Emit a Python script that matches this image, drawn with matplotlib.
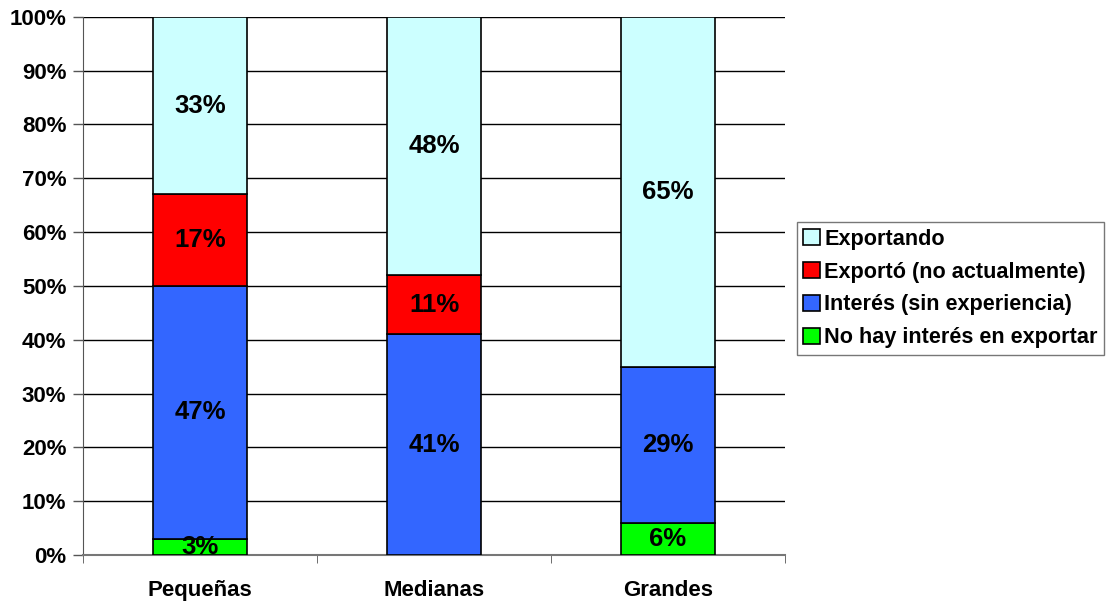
import matplotlib.pyplot as plt
import numpy as np

plt.rcParams['font.family'] = ['Liberation Sans', 'DejaVu Sans']
plt.rcParams['font.weight'] = 'bold'

categorias = ["Pequeñas", "Medianas", "Grandes"]
series = ["No hay interés en exportar", "Interés (sin experiencia)",
          "Exportó (no actualmente)", "Exportando"]
no_interes = [3, 0, 6]
interes = [47, 41, 29]
exporto = [17, 11, 0]
exportando = [33, 48, 65]
colores = ["#00FF00", "#3366FF", "#FF0000", "#CCFFFF"]

valores = [no_interes, interes, exporto, exportando]

fig = plt.figure(figsize=(11.1, 6.02), dpi=100)
ax = fig.add_axes([0.0748, 0.078, 0.6324, 0.894])

x = np.arange(len(categorias))
base = np.zeros(len(categorias))
handles = []
for nombre, vals, color in zip(series, valores, colores):
    vals = np.array(vals, dtype=float)
    b = ax.bar(x, vals, 0.4, bottom=base, color=color, edgecolor="black",
               linewidth=1.2, label=nombre, zorder=3)
    handles.append(b)
    for xi, v, b0 in zip(x, vals, base):
        if v > 0:
            ax.text(xi, b0 + v / 2, f"{int(v)}%", ha="center", va="center",
                    fontsize=18.5, fontweight="bold", zorder=4)
    base += vals

ax.set_xlim(-0.5, 2.5)
ax.set_ylim(0, 100)
ax.set_yticks(np.arange(0, 101, 10))
ax.set_yticklabels([f"{v}%" for v in range(0, 101, 10)], fontsize=16)
ax.yaxis.grid(True, color="black", linewidth=1.0, zorder=0)
ax.tick_params(axis="y", length=7, width=1, color="#555555", pad=5)

ax.set_xticks(x)
ax.set_xticklabels(categorias, fontsize=16)
ax.set_xticks([-0.5, 0.5, 1.5, 2.5], minor=True)
ax.tick_params(axis="x", which="major", length=0, pad=18)
ax.tick_params(axis="x", which="minor", length=6, color="#555555")

for s in ["top", "right"]:
    ax.spines[s].set_visible(False)
ax.spines["left"].set_color("#555555")
ax.spines["bottom"].set_color("#777777")
ax.spines["bottom"].set_linewidth(1.5)

leg = ax.legend(handles[::-1], series[::-1], loc="upper left",
                bbox_to_anchor=(0.718, 0.631), bbox_transform=fig.transFigure,
                borderaxespad=0, fontsize=15.6, frameon=True, fancybox=False,
                handlelength=0.75, handleheight=0.75, handletextpad=0.2,
                labelspacing=0.55, borderpad=0.3)
leg.get_frame().set_edgecolor("#555555")
leg.get_frame().set_linewidth(1.0)

fig.savefig("out.png", dpi=100)
